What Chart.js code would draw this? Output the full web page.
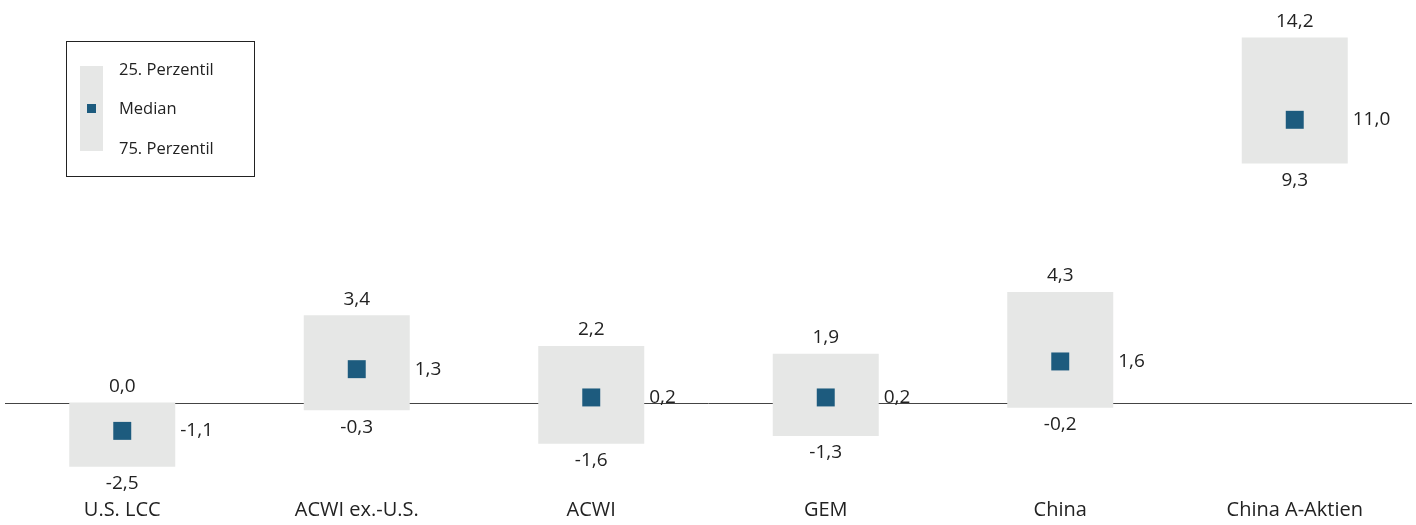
<!DOCTYPE html>
<html>
<head>
<meta charset="utf-8">
<script src="https://cdn.jsdelivr.net/npm/chart.js@4/dist/chart.umd.min.js"></script>
<style>
  html, body { margin: 0; padding: 0; background: #fff; }
  #wrap { width: 1416px; height: 525px; position: relative; }
</style>
</head>
<body>
<div id="wrap"><canvas id="rangeChart"></canvas></div>
<script>
// Spannen je Markt: 25. Perzentil (oben), Median, 75. Perzentil (unten)
const categories = ['U.S. LCC', 'ACWI ex.-U.S.', 'ACWI', 'GEM', 'China', 'China A-Aktien'];
const pct25 = [0.0, 3.4, 2.2, 1.9, 4.3, 14.2];
const median = [-1.1, 1.3, 0.2, 0.2, 1.6, 11.0];
const pct75 = [-2.5, -0.3, -1.6, -1.3, -0.2, 9.3];

const boxColor = '#e6e7e6';
const medianColor = '#1d5b7e';
const textColor = '#222222';
const fontFamily = '"Open Sans", sans-serif';

const fmt = v => v.toFixed(1).replace('.', ',');

// Nulllinie hinter den Boxen
const zeroLine = {
  id: 'zeroLine',
  beforeDatasetsDraw(chart) {
    const { ctx, chartArea, scales } = chart;
    const y = Math.round(scales.y.getPixelForValue(0)) + 0.5;
    ctx.save();
    ctx.strokeStyle = '#444';
    ctx.lineWidth = 1;
    ctx.beginPath();
    ctx.moveTo(chartArea.left, y);
    ctx.lineTo(chartArea.right, y);
    ctx.stroke();
    ctx.restore();
  }
};

// Werte ueber, unter und neben den Boxen
const valueLabels = {
  id: 'valueLabels',
  afterDatasetsDraw(chart) {
    const { ctx } = chart;
    const bars = chart.getDatasetMeta(0).data;
    const pts = chart.getDatasetMeta(1).data;
    ctx.save();
    ctx.fillStyle = textColor;
    ctx.font = '19px ' + fontFamily;
    ctx.textBaseline = 'middle';
    bars.forEach((bar, i) => {
      const top = Math.min(bar.y, bar.base);
      const bottom = Math.max(bar.y, bar.base);
      ctx.textAlign = 'center';
      ctx.fillText(fmt(pct25[i]), bar.x, top - 16);
      ctx.fillText(fmt(pct75[i]), bar.x, bottom + 17);
      ctx.textAlign = 'left';
      ctx.fillText(fmt(median[i]), bar.x + bar.width / 2 + 5, pts[i].y);
    });
    ctx.restore();
  }
};

// eigene Legende oben links
const boxLegend = {
  id: 'boxLegend',
  afterDraw(chart) {
    const { ctx } = chart;
    ctx.save();
    ctx.strokeStyle = '#222';
    ctx.lineWidth = 1;
    ctx.strokeRect(66.5, 41.5, 188, 135);
    ctx.fillStyle = boxColor;
    ctx.fillRect(80, 66, 23, 85);
    ctx.fillStyle = medianColor;
    ctx.fillRect(87, 104, 9, 9);
    ctx.fillStyle = textColor;
    ctx.font = '16.5px ' + fontFamily;
    ctx.textBaseline = 'middle';
    ctx.textAlign = 'left';
    ctx.fillText('25. Perzentil', 119, 70);
    ctx.fillText('Median', 119, 109);
    ctx.fillText('75. Perzentil', 119, 149);
    ctx.restore();
  }
};

new Chart(document.getElementById('rangeChart'), {
  data: {
    labels: categories,
    datasets: [
      {
        type: 'bar',
        data: pct25.map((v, i) => [pct75[i], v]),
        backgroundColor: boxColor,
        borderWidth: 0,
        barPercentage: 0.452,
        categoryPercentage: 1,
        order: 2
      },
      {
        type: 'line',
        data: median,
        showLine: false,
        pointStyle: 'rect',
        pointRadius: 12.7,
        pointHoverRadius: 12.7,
        pointBackgroundColor: medianColor,
        pointBorderWidth: 0,
        order: 1
      }
    ]
  },
  options: {
    responsive: true,
    maintainAspectRatio: false,
    animation: false,
    events: [],
    layout: { autoPadding: false, padding: { left: 5, right: 4, top: 0, bottom: 0 } },
    plugins: {
      legend: { display: false },
      tooltip: { enabled: false }
    },
    scales: {
      x: {
        grid: { display: false, drawTicks: false },
        border: { display: false },
        afterFit(scale) { scale.height = 35; },
        ticks: {
          color: textColor,
          font: { family: fontFamily, size: 20 },
          padding: 8,
          maxRotation: 0
        }
      },
      y: {
        display: false,
        min: -3.4,
        max: 15.66
      }
    }
  },
  plugins: [zeroLine, valueLabels, boxLegend]
});
</script>
</body>
</html>
